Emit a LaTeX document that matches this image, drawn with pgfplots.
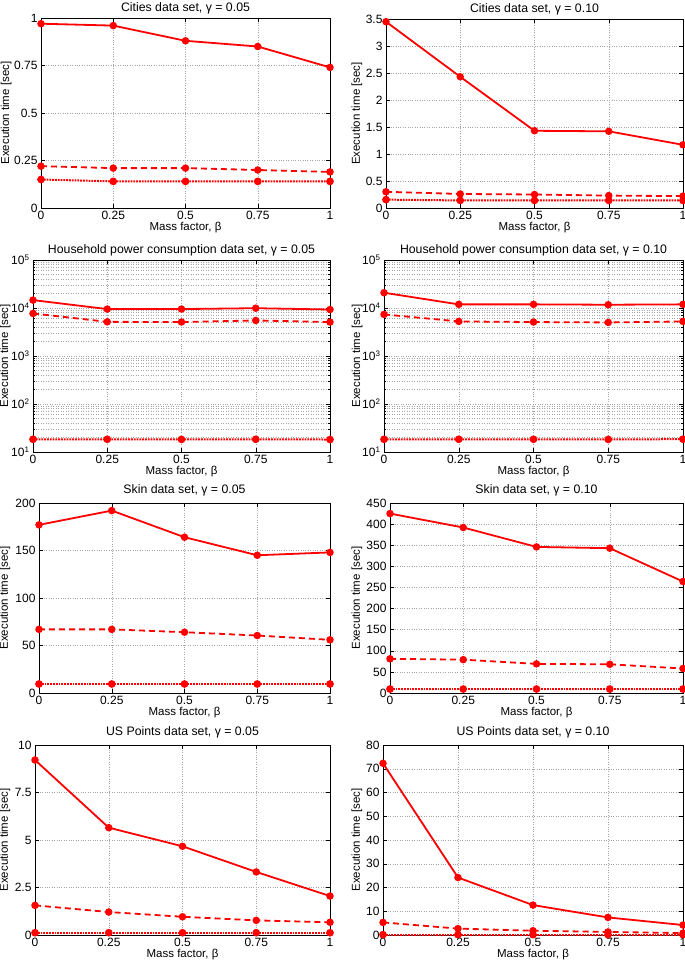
\documentclass[border=0pt]{standalone}
\usepackage{fontspec}
\setmainfont{Liberation Sans}
\usepackage{pgfplots}
\pgfplotsset{compat=1.18}

\pgfplotsset{
  mat/.style={
    scale only axis, anchor=south west,
    xmin=0, xmax=1, xtick={0,0.25,0.5,0.75,1},
    grid=major, grid style={dotted, gray!70, line width=0.5pt},
    axis line style={line width=0.6pt}, tick style={black, line width=0.5pt},
    major tick length=4pt, minor tick length=2pt,
    tick label style={font=\fontsize{12}{14}\selectfont},
    label style={font=\fontsize{11.5}{13}\selectfont},
    xlabel={Mass factor, β}, ylabel={Execution time [sec]},
    xlabel style={at={(axis description cs:0.5,-0.102)}, anchor=center},
    /pgf/number format/assume math mode=true,
    every axis plot/.append style={red, line width=1.8pt, mark=*, mark size=2.8pt, mark options={solid, fill=red}},
  },
  yl/.style={ylabel style={at={(axis description cs:#1,0.5)}, anchor=center}},
  tt/.style={every axis title/.style={at={(axis description cs:0.5,#1)}, anchor=center, font=\fontsize{12.3}{14}\selectfont}},
  hhlog/.style={
    ymin=10, ymax=100000,
    ytick={10,100,1000,10000,100000},
    yticklabels={10\textsuperscript{1},10\textsuperscript{2},10\textsuperscript{3},10\textsuperscript{4},10\textsuperscript{5}},
    minor ytick={20,30,40,50,60,70,80,90,200,300,400,500,600,700,800,900,2000,3000,4000,5000,6000,7000,8000,9000,20000,30000,40000,50000,60000,70000,80000,90000},
    yminorgrids=true, minor grid style={dotted, gray!70, line width=0.5pt},
  },
  s1/.style={solid},
  s2/.style={dash pattern=on 6pt off 4pt},
  s3/.style={densely dotted, line width=2pt},
}

\begin{document}
\begin{tikzpicture}
\useasboundingbox (0,0) rectangle (685pt,-961pt);

% row 1
\begin{axis}[mat, yl=-0.121, tt=1.053, at={(41pt,-208pt)}, width=289pt, height=190pt,
  title={Cities data set, γ = 0.05},
  ymin=0, ymax=1, ytick={0,0.25,0.5,0.75,1}]
\addplot[s1] coordinates {(0,0.97) (0.25,0.96) (0.5,0.88) (0.75,0.85) (1,0.74)};
\addplot[s2] coordinates {(0,0.22) (0.25,0.21) (0.5,0.21) (0.75,0.20) (1,0.19)};
\addplot[s3] coordinates {(0,0.15) (0.25,0.14) (0.5,0.14) (0.75,0.14) (1,0.14)};
\end{axis}

\begin{axis}[mat, yl=-0.098, tt=1.053, at={(386pt,-208pt)}, width=297pt, height=189pt,
  title={Cities data set, γ = 0.10},
  ymin=0, ymax=3.5, ytick={0,0.5,1,1.5,2,2.5,3,3.5}]
\addplot[s1] coordinates {(0,3.45) (0.25,2.43) (0.5,1.43) (0.75,1.42) (1,1.17)};
\addplot[s2] coordinates {(0,0.30) (0.25,0.26) (0.5,0.25) (0.75,0.23) (1,0.22)};
\addplot[s3] coordinates {(0,0.155) (0.25,0.14) (0.5,0.14) (0.75,0.14) (1,0.14)};
\end{axis}

% row 2
\begin{axis}[ymode=log, mat, hhlog, yl=-0.094, tt=1.052, at={(33pt,-452pt)}, width=297pt, height=192pt,
  title={Household power consumption data set, γ = 0.05}]
\addplot[s1] coordinates {(0,14600) (0.25,9500) (0.5,9500) (0.75,9900) (1,9300)};
\addplot[s2] coordinates {(0,7700) (0.25,5150) (0.5,5100) (0.75,5500) (1,5100)};
\addplot[s3] coordinates {(0,18.4) (0.25,18.4) (0.5,18.3) (0.75,18.4) (1,18.2)};
\end{axis}

\begin{axis}[ymode=log, mat, hhlog, yl=-0.090, tt=1.052, at={(384pt,-452pt)}, width=299pt, height=192pt,
  title={Household power consumption data set, γ = 0.10}]
\addplot[s1] coordinates {(0,20800) (0.25,11900) (0.5,11900) (0.75,11700) (1,11900)};
\addplot[s2] coordinates {(0,7350) (0.25,5250) (0.5,5100) (0.75,5000) (1,5250)};
\addplot[s3] coordinates {(0,18.4) (0.25,18.4) (0.5,18.4) (0.75,18.3) (1,18.5)};
\end{axis}

% row 3
\begin{axis}[mat, yl=-0.117, tt=1.068, at={(39pt,-693pt)}, width=291pt, height=190pt,
  title={Skin data set, γ = 0.05},
  ymin=0, ymax=200, ytick={0,50,100,150,200}]
\addplot[s1] coordinates {(0,177) (0.25,192) (0.5,164) (0.75,145) (1,148)};
\addplot[s2] coordinates {(0,67) (0.25,67) (0.5,64) (0.75,60.5) (1,56)};
\addplot[s3] coordinates {(0,9.5) (0.25,9.5) (0.5,9.5) (0.75,9.5) (1,9.5)};
\end{axis}

\begin{axis}[mat, yl=-0.113, tt=1.068, at={(390pt,-693pt)}, width=293pt, height=190pt,
  title={Skin data set, γ = 0.10},
  ymin=0, ymax=450, ytick={0,50,100,150,200,250,300,350,400,450}]
\addplot[s1] coordinates {(0,425) (0.25,392) (0.5,346) (0.75,343) (1,264)};
\addplot[s2] coordinates {(0,81) (0.25,79) (0.5,69) (0.75,68) (1,58)};
\addplot[s3] coordinates {(0,9.4) (0.25,9.4) (0.5,9.4) (0.75,9.4) (1,9.4)};
\end{axis}

% row 4
\begin{axis}[mat, yl=-0.102, tt=1.068, at={(35pt,-935pt)}, width=295pt, height=190pt,
  title={US Points data set, γ = 0.05},
  ymin=0, ymax=10, ytick={0,2.5,5,7.5,10}]
\addplot[s1] coordinates {(0,9.21) (0.25,5.65) (0.5,4.67) (0.75,3.32) (1,2.05)};
\addplot[s2] coordinates {(0,1.56) (0.25,1.21) (0.5,0.96) (0.75,0.77) (1,0.67)};
\addplot[s3] coordinates {(0,0.12) (0.25,0.12) (0.5,0.12) (0.75,0.12) (1,0.12)};
\end{axis}

\begin{axis}[mat, yl=-0.087, tt=1.068, at={(383pt,-935pt)}, width=300pt, height=190pt,
  title={US Points data set, γ = 0.10},
  ymin=0, ymax=80, ytick={0,10,20,30,40,50,60,70,80}]
\addplot[s1] coordinates {(0,72.3) (0.25,24.2) (0.5,12.6) (0.75,7.4) (1,4.2)};
\addplot[s2] coordinates {(0,5.3) (0.25,2.7) (0.5,1.8) (0.75,1.3) (1,0.8)};
\addplot[s3] coordinates {(0,0.15) (0.25,0.15) (0.5,0.15) (0.75,0.15) (1,0.15)};
\end{axis}
\end{tikzpicture}
\end{document}
